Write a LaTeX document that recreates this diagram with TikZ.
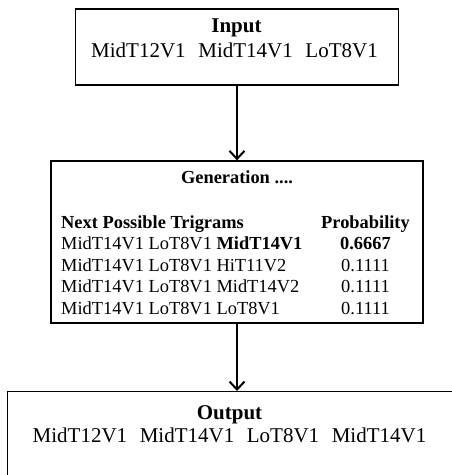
\documentclass[tikz,border=0pt]{standalone}
\usepackage{fontspec}
\setmainfont{Liberation Serif}
\usetikzlibrary{arrows.meta, positioning}

\begin{document}
\begin{tikzpicture}[x=1pt, y=-1pt,
  frame/.style={draw, line width=1.3pt, inner sep=0pt},
  bigtext/.style={font=\fontsize{21}{25}\selectfont, align=center, inner sep=0pt},
  smalltext/.style={font=\fontsize{18.4}{21.5}\selectfont, inner sep=0pt},
  arr/.style={line width=1.6pt, -{Straight Barb[length=8pt, width=15pt, line width=2pt]}}
]
  \useasboundingbox (0,0) rectangle (451,475);

  % boxes
  \node[frame, minimum width=323, minimum height=76] (input) at (237,47) {};
  \node[frame, minimum width=372, minimum height=162] (gen) at (237,242) {};
  \node[frame, minimum width=453, minimum height=110, anchor=north west] (output) at (7,391) {};

  % input
  \node[bigtext, anchor=base] (inputlbl) at (236.5,32) {\textbf{Input}};
  \node[bigtext, anchor=base] (inputseq) at (234.5,57) {MidT12V1\hspace{0.6em}MidT14V1\hspace{0.6em}LoT8V1};

  % generation
  \node[smalltext, anchor=base] (genlbl) at (237,183) {\textbf{Generation ....}};
  \node[smalltext, anchor=base west] (gentable) at (61,228) {%
    \begin{tabular}[t]{@{}p{260pt}@{}c@{}}
      \textbf{Next Possible Trigrams} & \textbf{Probability} \\
      MidT14V1 LoT8V1 \textbf{MidT14V1} & \textbf{0.6667} \\
      MidT14V1 LoT8V1 HiT11V2 & 0.1111 \\
      MidT14V1 LoT8V1 MidT14V2 & 0.1111 \\
      MidT14V1 LoT8V1 LoT8V1 & 0.1111 \\
    \end{tabular}};

  % output
  \node[bigtext, anchor=base] (outputlbl) at (229.5,419) {\textbf{Output}};
  \node[bigtext, anchor=base] (outputseq) at (229.5,442) {MidT12V1\hspace{0.6em}MidT14V1\hspace{0.6em}LoT8V1\hspace{0.6em}MidT14V1};

  % arrows
  \draw[arr] (input.south) -- (input.south |- gen.north);
  \draw[arr] (gen.south) -- (gen.south |- output.north);
\end{tikzpicture}
\end{document}
